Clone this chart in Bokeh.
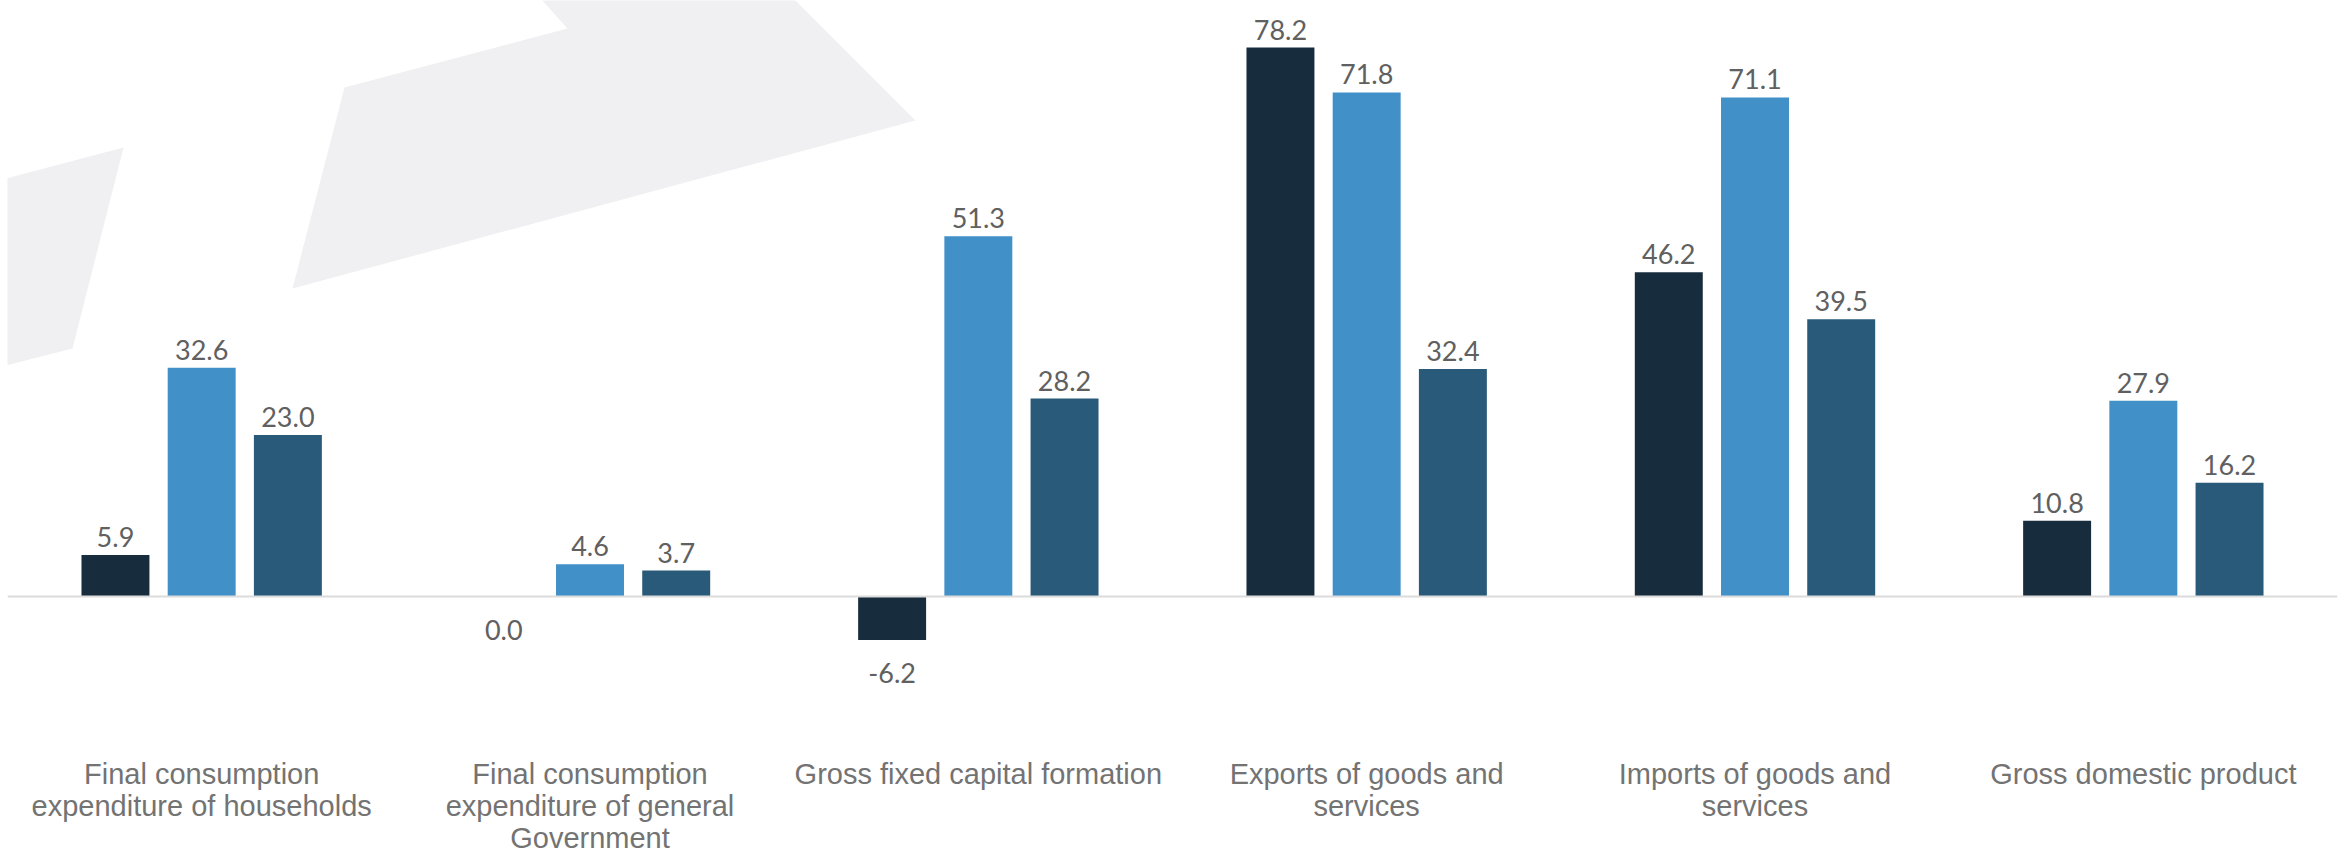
from bokeh.plotting import figure
from bokeh.models import ColumnDataSource, Range1d, FactorRange, Span
from bokeh.transform import dodge
from bokeh.embed import file_html
from bokeh.resources import INLINE
from bokeh.core.properties import value

# ---------------- data ----------------
categories = [
    "Final consumption\nexpenditure of households",
    "Final consumption\nexpenditure of general\nGovernment",
    "Gross fixed capital formation",
    "Exports of goods and\nservices",
    "Imports of goods and\nservices",
    "Gross domestic product",
]
series_a = [5.9, 0.0, -6.2, 78.2, 46.2, 10.8]
series_b = [32.6, 4.6, 51.3, 71.8, 71.1, 27.9]
series_c = [23.0, 3.7, 28.2, 32.4, 39.5, 16.2]

colors = ["#172c3c", "#4190c8", "#295a7a"]
offsets = [-0.222, 0.0, 0.222]
bar_width = 0.175

# decorative background watermark (figure pixel units, from top-left)
deco_xs = [[540, 567, 344, 292, 915, 793], [-2, 123, 72, -2]]
deco_ys = [[-2, 28, 87, 288, 120, -2], [180, 147, 348, 367]]

# ---------------- layout constants ----------------
LEFT = 7
FRAME_W = 2330
FRAME_H = 700
BASE_PX = 596.0
PX_PER_UNIT = 7.02
PX_PER_CAT = FRAME_W / len(categories)

p = figure(
    frame_width=FRAME_W, frame_height=FRAME_H,
    x_range=FactorRange(*categories, range_padding=0),
    y_range=Range1d(-(FRAME_H - BASE_PX) / PX_PER_UNIT, BASE_PX / PX_PER_UNIT),
    output_backend="svg", toolbar_location=None,
    y_axis_location=None,
    min_border_left=LEFT, min_border_right=11,
    min_border_top=0, min_border_bottom=0,
)

# background watermark shapes, converted from pixels to synthetic coordinates
p.patches([[(x - LEFT) / PX_PER_CAT for x in xs] for xs in deco_xs],
          [[(BASE_PX - y) / PX_PER_UNIT for y in ys] for ys in deco_ys],
          fill_color="#f0f0f2", line_color=None, level="underlay")

p.outline_line_color = None
p.xgrid.grid_line_color = None
p.ygrid.grid_line_color = None
p.background_fill_color = "white"
p.border_fill_color = "white"

src = ColumnDataSource(dict(cat=categories, a=series_a, b=series_b, c=series_c))

for key, vals, col, off in zip(["a", "b", "c"], [series_a, series_b, series_c], colors, offsets):
    p.vbar(x=dodge("cat", off, range=p.x_range), top=key, width=bar_width,
           bottom=0, source=src, fill_color=col, line_color=None)
    lab = ColumnDataSource(dict(
        cat=categories, v=vals,
        txt=["%.1f" % v for v in vals],
        yo=[-18 if v > 0 else 33 for v in vals],
    ))
    p.text(x=dodge("cat", off, range=p.x_range), y="v", text="txt", source=lab,
           y_offset="yo", text_align="center", text_baseline="alphabetic",
           text_font=value("Lato"), text_font_size="27px", text_color="#606060")

p.add_layout(Span(location=0, dimension="width", line_color="#dcdcdc", line_width=2))

ax = p.xaxis[0]
ax.axis_line_color = None
ax.major_tick_line_color = None
ax.minor_tick_line_color = None
ax.major_tick_out = 0
ax.major_label_standoff = 57
ax.major_label_text_font = "Liberation Sans"
ax.major_label_text_font_size = "29px"
ax.major_label_text_color = "#737373"
ax.major_label_text_line_height = 1.0

open("out.html", "w").write(file_html(p, INLINE))
